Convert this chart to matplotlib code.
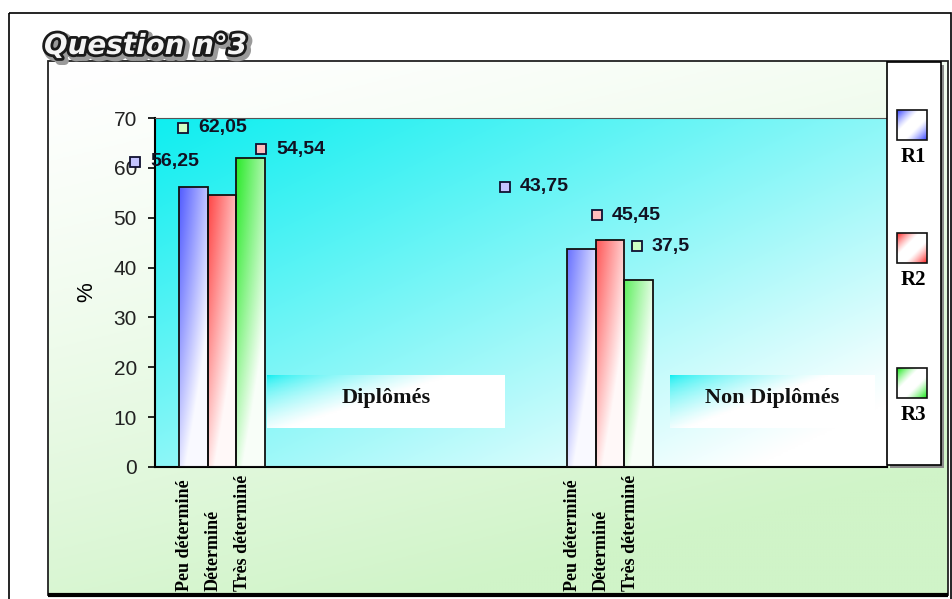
import numpy as np
import matplotlib.pyplot as plt
import matplotlib.colors as mcolors
import matplotlib.patheffects as pe
from matplotlib.patches import Rectangle
from matplotlib.transforms import ScaledTranslation, blended_transform_factory

groups = ["Diplômés", "Non Diplômés"]
series = ["R1", "R2", "R3"]
levels = ["Peu déterminé", "Déterminé", "Très déterminé"]
r1 = [56.25, 43.75]
r2 = [54.54, 45.45]
r3 = [62.05, 37.5]
value_labels = [["56,25", "43,75"], ["54,54", "45,45"], ["62,05", "37,5"]]
yticks = [0, 10, 20, 30, 40, 50, 60, 70]

bar_colors = ["#3a46ff", "#ff2a2a", "#18e818"]
marker_faces = ["#c4c4ff", "#ffbcbc", "#d0ffc4"]
# label marker offsets in pixels from each bar top (series x group)
label_offsets = [[(-58, 25), (-76, 62)], [(39, 46), (-13, 25)], [(-68, 30), (-2, 34)]]

W, H = 953, 599
fig = plt.figure(figsize=(W / 100, H / 100), dpi=100)
fig.patch.set_facecolor("white")


def lerp_white(base, s):
    c = np.array(mcolors.to_rgb(base))
    return c * (1 - s[..., None]) + s[..., None]


# background overlay in pixel coordinates
bg = fig.add_axes([0, 0, 1, 1], zorder=0)
bg.axis("off")
bg.add_patch(Rectangle((9, 13), 942, 590, fill=False, ec="black", lw=1.2))
gx = np.linspace(0, 1, 300)[None, :]
gy = np.linspace(0, 1, 200)[:, None]
s = 1 - np.clip(0.35 * gx + 0.85 * gy, 0, 1) ** 1.3
bg.imshow(lerp_white("#d0f4c8", s), extent=[48, 948, 595, 61], aspect="auto", origin="upper")
bg.add_patch(Rectangle((48, 61), 900, 534, fill=False, ec="#222222", lw=1.3))
bg.plot([48, 948], [595, 595], color="black", lw=3, solid_capstyle="butt")
bg.set_xlim(0, W)
bg.set_ylim(H, 0)

# main plot
ax = fig.add_axes([155 / W, 1 - 467 / H, (887 - 155) / W, (467 - 118) / H], zorder=1)
ax.patch.set_visible(False)
t = np.clip(0.55 * gx + 0.55 * gy, 0, 1) ** 1.1
ax.imshow(lerp_white("#10eef0", t), extent=[0, 1, 0, 1], transform=ax.transAxes,
          aspect="auto", origin="upper", zorder=0)

w = 0.0747
x = np.arange(len(groups))
for i, vals in enumerate([r1, r2, r3]):
    bars = ax.bar(x + (i - 1) * w, vals, w, facecolor="none", edgecolor="#111111",
                  lw=1.3, zorder=3)
    for j, b in enumerate(bars):
        x0, h = b.get_x(), b.get_height()
        u = np.linspace(0, 1, 40)[None, :]
        yy = np.linspace(h, 0, 200)[:, None]
        sv = np.clip(0.05 + 0.55 * u + 0.8 * (1 - yy / 70) ** 1.5, 0, 0.97)
        im = ax.imshow(lerp_white(bar_colors[i], sv), extent=[x0, x0 + w, 0, h],
                       aspect="auto", origin="upper", zorder=2.5)
        im.set_clip_path(b)
        dx, dy = label_offsets[i][j]
        tr = ax.transData + ScaledTranslation(dx / 100, dy / 100, fig.dpi_scale_trans)
        ax.plot([x0 + w / 2], [h], "s", ms=6.5, mfc=marker_faces[i], mec="#101030",
                mew=1.3, transform=tr, clip_on=False, zorder=5)
        tr2 = ax.transData + ScaledTranslation((dx + 15) / 100, dy / 100, fig.dpi_scale_trans)
        ax.text(x0 + w / 2, h, value_labels[i][j], transform=tr2, ha="left", va="center",
                fontsize=14, fontweight="bold", family="Liberation Sans", color="#111122",
                zorder=5, clip_on=False)

ax.set_xlim(-0.1727, 1.7139)
ax.set_ylim(0, 70)
ax.set_yticks(yticks)
ax.set_xticks([])
ax.tick_params(axis="y", length=5, width=1.2, pad=8, labelsize=15, labelcolor="#222222")
for lab in ax.get_yticklabels():
    lab.set_family("Liberation Sans")
ax.set_ylabel("%", fontsize=16, family="Liberation Sans", labelpad=12)
ax.spines["left"].set_linewidth(1.5)
ax.spines["bottom"].set_linewidth(1.5)
ax.spines["top"].set_color("#555555")
ax.spines["right"].set_color("#555555")

bt = blended_transform_factory(ax.transData, ax.transAxes)
for g in range(len(groups)):
    for i, lev in enumerate(levels):
        ax.text(x[g] + (i - 1) * w - 0.3 * w, -0.355, lev, transform=bt, rotation=90,
                ha="center", va="bottom", fontsize=13, fontweight="bold",
                family="Liberation Serif", color="black")

# overlay: title, category boxes, legend
top = fig.add_axes([0, 0, 1, 1], zorder=3)
top.patch.set_visible(False)
top.axis("off")
top.text(44, 54, "Question n°3", fontsize=20, style="italic", fontweight="bold",
         family="DejaVu Sans", color="#f4f4f4", va="baseline", ha="left",
         path_effects=[pe.Stroke(linewidth=6, foreground="#9a9a9a", offset=(2, -2)),
                       pe.Stroke(linewidth=4, foreground="#1a1a1a"), pe.Normal()])

u = np.linspace(0, 1, 120)[None, :]
v = np.linspace(0, 1, 40)[:, None]
sb = np.clip(1.3 * u + 0.9 * v, 0, 1) ** 0.6
box_img = lerp_white("#08eef0", sb)
for (bx0, bx1), name in zip([(267, 505), (670, 875)], groups):
    top.imshow(box_img, extent=[bx0, bx1, 428, 375], aspect="auto", origin="upper", zorder=2)
    top.text((bx0 + bx1) / 2, 398, name, ha="center", va="center", fontsize=16,
             fontweight="bold", family="Liberation Serif", color="#111111", zorder=3)

top.add_patch(Rectangle((890, 65), 54, 403, fc="#8a8a8a", ec="none", zorder=1))
top.add_patch(Rectangle((887, 62), 54, 403, fc="white", ec="black", lw=1.2, zorder=1.5))
su = np.linspace(0, 1, 30)
dd = (su[None, :] + su[:, None]) / 2
sq = np.clip(1.15 * (1 - np.abs(2 * dd - 1) ** 1.5), 0, 1)
for k, (name, col) in enumerate(zip(series, bar_colors)):
    y0 = [110, 233, 368][k]
    top.imshow(lerp_white(col, sq), extent=[897, 927, y0 + 30, y0],
               aspect="auto", origin="upper", zorder=2)
    top.add_patch(Rectangle((897, y0), 30, 30, fill=False, ec="#111111", lw=1.2, zorder=3))
    top.text(913, y0 + 47, name, ha="center", va="center", fontsize=15,
             fontweight="bold", family="Liberation Serif", color="black", zorder=3)
top.set_xlim(0, W)
top.set_ylim(H, 0)

fig.savefig("out.png", dpi=100)
